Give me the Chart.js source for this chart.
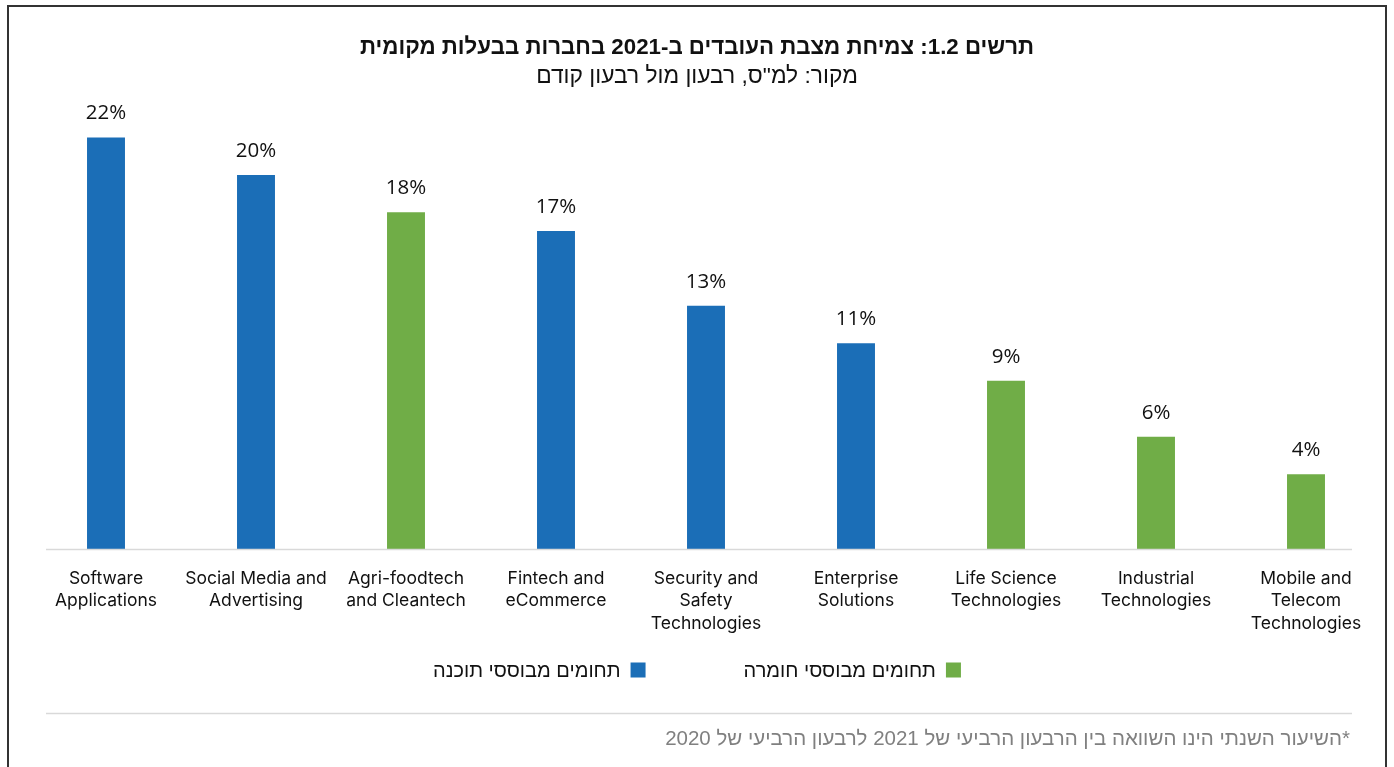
<!DOCTYPE html>
<html lang="he">
<head>
<meta charset="utf-8">
<script src="https://cdn.jsdelivr.net/npm/chart.js@4.4.1/dist/chart.umd.min.js"></script>
<style>
  html, body { margin: 0; padding: 0; background: #fff; }
  #wrap { width: 1394px; height: 767px; }
</style>
</head>
<body>
<div id="wrap"><canvas id="growthChart" dir="rtl"></canvas></div>
<script>
const sectors = [
  ['Software', 'Applications'],
  ['Social Media and', 'Advertising'],
  ['Agri-foodtech', 'and Cleantech'],
  ['Fintech and', 'eCommerce'],
  ['Security and', 'Safety', 'Technologies'],
  ['Enterprise', 'Solutions'],
  ['Life Science', 'Technologies'],
  ['Industrial', 'Technologies'],
  ['Mobile and', 'Telecom', 'Technologies']
];
const growth = [22, 20, 18, 17, 13, 11, 9, 6, 4];
const sectorType = ['sw', 'sw', 'hw', 'sw', 'sw', 'sw', 'hw', 'hw', 'hw'];
const seriesOrder = ['hw', 'sw'];
const seriesNames = { hw: 'תחומים מבוססי חומרה', sw: 'תחומים מבוססי תוכנה' };
const seriesColors = { hw: '#70AD47', sw: '#1B6EB7' };

const titleText = 'תרשים 1.2: צמיחת מצבת העובדים ב-2021 בחברות בבעלות מקומית';
const subtitleText = 'מקור: למ"ס, רבעון מול רבעון קודם';
const footnoteText = '*השיעור השנתי הינו השוואה בין הרבעון הרביעי של 2021 לרבעון הרביעי של 2020';

const ARIAL = '"Liberation Sans", Arial, sans-serif';

// percent labels above each bar
const valueLabels = {
  id: 'valueLabels',
  afterDatasetsDraw(chart) {
    const ctx = chart.ctx;
    ctx.save();
    ctx.direction = 'ltr';
    ctx.font = '20.5px "Open Sans", sans-serif';
    ctx.fillStyle = '#111';
    ctx.textAlign = 'center';
    ctx.textBaseline = 'middle';
    chart.data.datasets.forEach((ds, di) => {
      chart.getDatasetMeta(di).data.forEach((bar, i) => {
        if (ds.data[i] == null) return;
        ctx.fillText(ds.data[i] + '%', bar.x, bar.y - 24);
      });
    });
    ctx.restore();
  }
};

// baseline, legend row, separator, footnote and the outer frame
const decorations = {
  id: 'decorations',
  afterDraw(chart) {
    const ctx = chart.ctx;
    const area = chart.chartArea;
    const y0 = chart.scales.y.getPixelForValue(0);
    ctx.save();

    ctx.strokeStyle = '#d9d9d9';
    ctx.lineWidth = 1.5;
    ctx.beginPath();
    ctx.moveTo(area.left + 15, y0 + 0.5);
    ctx.lineTo(area.right - 29, y0 + 0.5);
    ctx.stroke();

    // legend, laid out right to left
    ctx.direction = 'rtl';
    ctx.font = '20px ' + ARIAL;
    ctx.textBaseline = 'middle';
    ctx.textAlign = 'right';
    const box = 15, gap = 10, spacing = 98;
    const items = chart.data.datasets.map(ds => ({
      text: ds.label, color: ds.backgroundColor,
      w: box + gap + ctx.measureText(ds.label).width
    }));
    const total = items.reduce((s, it) => s + it.w, 0) + spacing * (items.length - 1);
    let x = chart.width / 2 + total / 2;
    const ly = area.bottom + 121;
    items.forEach(it => {
      ctx.fillStyle = it.color;
      ctx.fillRect(x - box, ly - box / 2, box, box);
      ctx.fillStyle = '#111';
      ctx.fillText(it.text, x - box - gap, ly + 1);
      x -= it.w + spacing;
    });

    ctx.strokeStyle = '#d9d9d9';
    ctx.lineWidth = 1.5;
    ctx.beginPath();
    ctx.moveTo(area.left + 15, area.bottom + 164.5);
    ctx.lineTo(area.right - 29, area.bottom + 164.5);
    ctx.stroke();

    ctx.fillStyle = '#808080';
    ctx.font = '20.5px ' + ARIAL;
    ctx.fillText(footnoteText, area.right - 31, area.bottom + 190);

    ctx.strokeStyle = '#333';
    ctx.lineWidth = 2;
    ctx.strokeRect(8, 6, 1378, 800);
    ctx.restore();
  }
};

const ctx = document.getElementById('growthChart');
new Chart(ctx, {
  type: 'bar',
  data: {
    labels: sectors,
    datasets: seriesOrder.map(t => ({
      label: seriesNames[t],
      data: growth.map((v, i) => sectorType[i] === t ? v : null),
      backgroundColor: seriesColors[t],
      barPercentage: 0.253,
      categoryPercentage: 1
    }))
  },
  options: {
    responsive: true,
    maintainAspectRatio: false,
    animation: false,
    layout: { padding: { top: 34, left: 13, right: 13, bottom: 113.75 } },
    plugins: {
      legend: { display: false },
      tooltip: { enabled: false },
      title: {
        display: true,
        text: titleText,
        color: '#111',
        font: { family: ARIAL, size: 22.3, weight: 'bold', lineHeight: 1.2 },
        padding: { top: 0, bottom: 2 }
      },
      subtitle: {
        display: true,
        text: subtitleText,
        color: '#111',
        font: { family: ARIAL, size: 22.8, lineHeight: 1.2 },
        padding: { top: 0, bottom: 10 }
      }
    },
    scales: {
      x: {
        stacked: true,
        grid: { display: false, drawTicks: false },
        border: { display: false },
        ticks: {
          color: '#111',
          padding: 18,
          autoSkip: false,
          maxRotation: 0,
          font: { family: 'Inter, Roboto, sans-serif', size: 17.5, lineHeight: 1.3 }
        }
      },
      y: {
        stacked: true,
        min: 0,
        max: 24,
        grid: { display: false, drawTicks: false },
        border: { display: false },
        ticks: { display: false },
        // empty gutter so the bars start where the titles are centred
        afterFit(scale) { scale.width = 18; }
      }
    }
  },
  plugins: [valueLabels, decorations]
});
</script>
</body>
</html>
